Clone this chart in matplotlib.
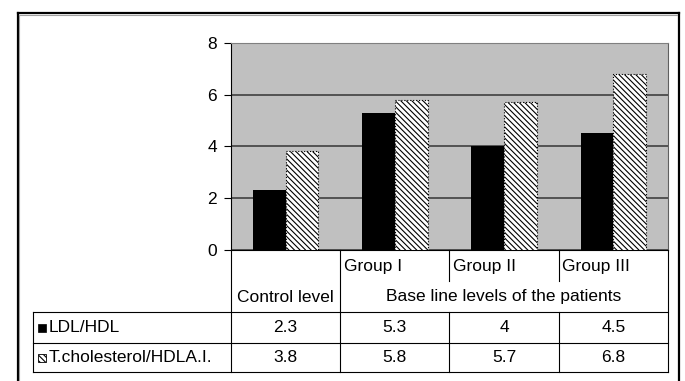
import matplotlib
matplotlib.use("Agg")
import matplotlib.pyplot as plt
from matplotlib.patches import Rectangle
from matplotlib.lines import Line2D
import numpy as np

plt.rcParams['font.family'] = ['Liberation Sans', 'DejaVu Sans']
plt.rcParams['hatch.linewidth'] = 0.8

# ---------------------------------------------------------#
#                          Data                             #
# ---------------------------------------------------------#
groups = ["Control level", "Group I", "Group II", "Group III"]
series_names = ["LDL/HDL", "T.cholesterol/HDLA.I."]
ldl_hdl = [2.3, 5.3, 4, 4.5]
tchol_hdl = [3.8, 5.8, 5.7, 6.8]
span_label = "Base line levels of the patients"
y_ticks = [0, 2, 4, 6, 8]

W, H = 685, 381
FS = 12.5
HATCH = '\\' * 6

fig = plt.figure(figsize=(W / 100, H / 100), dpi=100)

# plot area in pixels
px0, px1 = 231, 668
py_top, py_bot = 43, 249.5
ax = fig.add_axes([px0 / W, (H - py_bot) / H, (px1 - px0) / W, (py_bot - py_top) / H])
ax.set_facecolor('#c0c0c0')

x = np.arange(len(groups))
bw = 0.3
ax.bar(x - bw / 2, ldl_hdl, bw, color='black', zorder=3)
ax.bar(x + bw / 2, tchol_hdl, bw, color='white', edgecolor='black', hatch=HATCH,
       linewidth=0.8, linestyle=':', zorder=3)

ax.set_xlim(-0.5, len(groups) - 0.5)
ax.set_ylim(0, 8)
ax.set_yticks(y_ticks)
ax.set_xticks([])
ax.tick_params(axis='y', labelsize=FS, length=5, width=0.8, pad=5)
ax.yaxis.grid(True, color='#404040', linewidth=1.2)
ax.set_axisbelow(True)
ax.spines['top'].set_color('#808080')
ax.spines['right'].set_color('#606060')
ax.spines['left'].set_linewidth(0.8)
ax.spines['bottom'].set_linewidth(0.8)

# overlay in pixel coordinates for the data table and the outer frame
ov = fig.add_axes([0, 0, 1, 1], zorder=5)
ov.set_xlim(0, W)
ov.set_ylim(H, 0)
ov.axis('off')
ov.patch.set_alpha(0)

def seg(x0, y0, x1, y1, color='black', lw=0.8):
    ov.add_line(Line2D([x0, x1], [y0, y1], color=color, linewidth=lw))

# outer frame
seg(18, 13, 679, 13, lw=1.6)
seg(18, 13, 18, H + 5, lw=1.6)
seg(679, 13, 679, H + 5, lw=1.6)
seg(19.5, 14.5, 677.5, 14.5, color='#a0a0a0', lw=0.8)
seg(19.5, 14.5, 19.5, H + 5, color='#a0a0a0', lw=0.8)

cw = (px1 - px0) / len(groups)
cols = [px0 + i * cw for i in range(len(groups) + 1)]
tab_left = 33
row_top, row_mid, row_bot = 312, 343, 372
hdr_split = 281

# table grid
for i, cx in enumerate(cols):
    if i in (2, 3):
        seg(cx, py_bot, cx, hdr_split)
        seg(cx, row_top, cx, row_bot)
    else:
        seg(cx, py_bot, cx, row_bot)
seg(tab_left, row_top, tab_left, row_bot)
for ry in (row_top, row_mid, row_bot):
    seg(tab_left, ry, px1, ry)

# header texts
for i in range(1, len(groups)):
    ov.text(cols[i] + 3.5, 267, groups[i], fontsize=FS, ha='left', va='center')
ov.text((cols[0] + cols[1]) / 2, 297, groups[0], fontsize=FS, ha='center', va='center')
ov.text((cols[1] + cols[-1]) / 2, 297, span_label, fontsize=FS, ha='center', va='center')

# series rows with legend keys
rows = [(ldl_hdl, (row_top + row_mid) / 2), (tchol_hdl, (row_mid + row_bot) / 2)]
for k, (vals, ry) in enumerate(rows):
    if k == 0:
        ov.add_patch(Rectangle((38.5, ry - 3.5), 7.5, 7.5, facecolor='black', edgecolor='black', linewidth=0.5))
    else:
        ov.add_patch(Rectangle((38.5, ry - 3.5), 7.5, 7.5, facecolor='white', edgecolor='black',
                               hatch=HATCH, linewidth=0.6))
    ov.text(49, ry, series_names[k], fontsize=FS, ha='left', va='center')
    for i, v in enumerate(vals):
        ov.text((cols[i] + cols[i + 1]) / 2, ry, '%g' % v, fontsize=FS, ha='center', va='center')

fig.savefig('out.png', dpi=100)
